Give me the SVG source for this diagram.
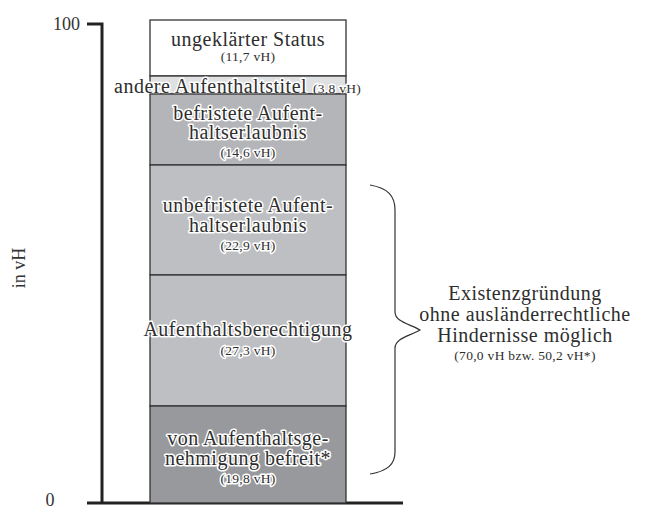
<svg xmlns="http://www.w3.org/2000/svg" width="648" height="510" viewBox="0 0 648 510">
<style>
  .seg { stroke: #333; stroke-width: 1.3; }
  .lbl { font-family: "Liberation Serif", "DejaVu Serif", serif; font-size: 20px; letter-spacing: 0.5px; fill: #2e2e2e; stroke: #fff; stroke-width: 3; paint-order: stroke; stroke-linejoin: round; text-anchor: middle; }
  .sm { font-size: 13.5px; letter-spacing: 0.3px; }
  .ax { font-family: "Liberation Serif", "DejaVu Serif", serif; font-size: 18px; fill: #333; }
  .axis { stroke: #222; stroke-width: 3; fill: none; }
</style>
<rect width="648" height="510" fill="#fff"/>
<g id="axes">
  <path class="axis" d="M87,24 H102 V503"/>
  <path class="axis" d="M87,503 H403"/>
  <text class="ax" x="80" y="30" text-anchor="end">100</text>
  <text class="ax" x="50" y="506" text-anchor="middle">0</text>
  <text class="ax" transform="translate(25,268) rotate(-90)" text-anchor="middle">in vH</text>
</g>
<g id="seg-ungeklaert">
  <rect class="seg" x="150" y="20" width="196" height="56" fill="#ffffff"/>
  <text class="lbl" x="248" y="46">ungeklärter Status</text>
  <text class="lbl sm" x="248" y="61">(11,7 vH)</text>
</g>
<g id="seg-andere">
  <rect class="seg" x="150" y="76" width="196" height="18" fill="#dfe0e2"/>
  <text class="lbl" x="114" y="93" style="text-anchor:start">andere Aufenthaltstitel</text>
  <text class="lbl sm" x="313" y="93" style="text-anchor:start">(3,8 vH)</text>
</g>
<g id="seg-befristet">
  <rect class="seg" x="150" y="94" width="196" height="71" fill="#b4b5b8"/>
  <text class="lbl" x="248" y="120">befristete Aufent-</text>
  <text class="lbl" x="248" y="139">haltserlaubnis</text>
  <text class="lbl sm" x="248" y="157">(14,6 vH)</text>
</g>
<g id="seg-unbefristet">
  <rect class="seg" x="150" y="165" width="196" height="110" fill="#bebfc2"/>
  <text class="lbl" x="248" y="212">unbefristete Aufent-</text>
  <text class="lbl" x="248" y="232">haltserlaubnis</text>
  <text class="lbl sm" x="248" y="250">(22,9 vH)</text>
</g>
<g id="seg-berechtigung">
  <rect class="seg" x="150" y="275" width="196" height="131" fill="#bebfc2"/>
  <text class="lbl" x="248" y="336">Aufenthaltsberechtigung</text>
  <text class="lbl sm" x="248" y="355">(27,3 vH)</text>
</g>
<g id="seg-befreit">
  <rect class="seg" x="150" y="406" width="196" height="97" fill="#98999c"/>
  <text class="lbl" x="248" y="445">von Aufenthaltsge-</text>
  <text class="lbl" x="248" y="465">nehmigung befreit*</text>
  <text class="lbl sm" x="248" y="483">(19,8 vH)</text>
</g>
<g id="connectors">
  <path d="M370,185 C388,188 395,196 395,210 V312 C395,322 410,324 420,330 C410,336 395,338 395,348 V452 C395,464 388,471 370,474" fill="none" stroke="#333" stroke-width="1.2"/>
</g>
<g id="note">
  <text class="lbl" x="525" y="300">Existenzgründung</text>
  <text class="lbl" x="525" y="321">ohne ausländerrechtliche</text>
  <text class="lbl" x="525" y="342">Hindernisse möglich</text>
  <text class="lbl sm" x="525" y="360">(70,0 vH bzw. 50,2 vH*)</text>
</g>
</svg>
